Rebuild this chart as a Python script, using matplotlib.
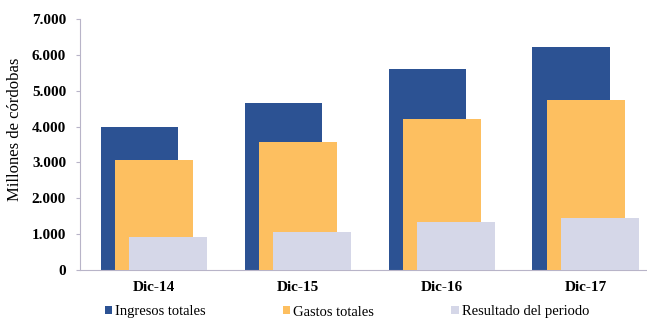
import matplotlib.pyplot as plt
import numpy as np
from matplotlib.ticker import FuncFormatter

# data (millones de cordobas)
categorias = ["Dic-14", "Dic-15", "Dic-16", "Dic-17"]
ingresos = [3980, 4650, 5600, 6230]
gastos = [3060, 3570, 4210, 4740]
resultado = [920, 1060, 1340, 1450]

plt.rcParams['font.family'] = ['Liberation Serif', 'DejaVu Serif']

fig = plt.figure(figsize=(6.47, 3.18), dpi=100)
ax = fig.add_axes([0.1236, 0.151, 0.876, 0.789])

x = np.arange(len(categorias))
w = 0.54
ax.bar(x - 0.10, ingresos, w, color='#2c5293', label='Ingresos totales', zorder=2)
ax.bar(x, gastos, w, color='#fdbf60', label='Gastos totales', zorder=3)
ax.bar(x + 0.10, resultado, w, color='#d5d7e8', label='Resultado del periodo', zorder=4)

ax.set_ylim(0, 7000)
ax.set_yticks(range(0, 7001, 1000))
ax.yaxis.set_major_formatter(FuncFormatter(lambda v, p: f"{int(v):,}".replace(",", ".")))
ax.set_xlim(-0.514, 3.424)
ax.set_xticks(x)
ax.set_xticklabels(categorias, fontsize=11, fontweight='bold')
for lab in ax.get_yticklabels():
    lab.set_fontweight('bold')
    lab.set_fontsize(11)
ax.tick_params(axis='x', length=0, pad=8)
ax.tick_params(axis='y', length=3, color='#b8b4c8', pad=7)

ax.spines['top'].set_visible(False)
ax.spines['right'].set_visible(False)
ax.spines['left'].set_color('#b8b4c8')
ax.spines['bottom'].set_color('#b8b4c8')

ax.set_ylabel('Millones de córdobas', fontsize=12)
ax.yaxis.set_label_coords(-0.100, 0.562)

fig.legend(loc='center', bbox_to_anchor=(347 / 647, 1 - 312 / 318), ncol=3, frameon=False,
           fontsize=10.5, handlelength=0.5, handleheight=0.5, handletextpad=0.2,
           columnspacing=5.3, borderpad=0)

fig.savefig('out.png', dpi=100)
